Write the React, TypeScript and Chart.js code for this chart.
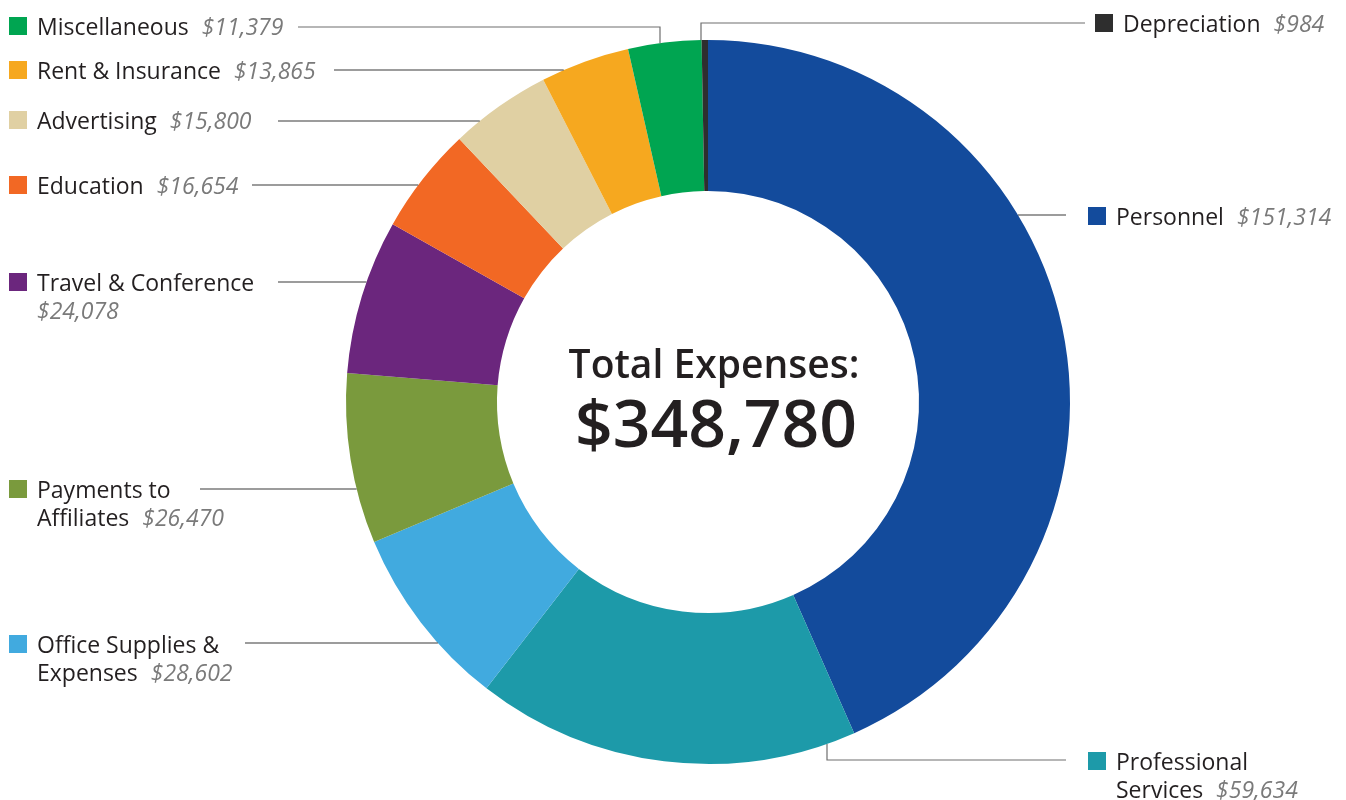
import React, { useEffect, useRef } from "react";
import { Chart, registerables } from "chart.js";

Chart.register(...registerables);

const LABELS = [
  "Personnel",
  "Professional Services",
  "Office Supplies & Expenses",
  "Payments to Affiliates",
  "Travel & Conference",
  "Education",
  "Advertising",
  "Rent & Insurance",
  "Miscellaneous",
  "Depreciation",
];
const VALUES = [151314, 59634, 28602, 26470, 24078, 16654, 15800, 13865, 11379, 984];
const COLORS = [
  "#134B9C",
  "#1D9AA9",
  "#41AADF",
  "#7A9A3D",
  "#6B267D",
  "#F26824",
  "#E0D0A3",
  "#F6A81F",
  "#00A551",
  "#2E2E2E",
];
const CENTER_TITLE = "Total Expenses:";

// Annotation layout (label boxes and leader lines), per category index
type Lay = {
  side: "left" | "right";
  sx: number;
  tx: number;
  y: number;
  lines: string[];
  valueLine: number;
  lineY: number;
  lineFrom: number;
  elbowX?: number;
};
const LAYOUT: Lay[] = [
  { side: "right", sx: 1088, tx: 1116, y: 216, lines: ["Personnel"], valueLine: 0, lineY: 215, lineFrom: 1066 },
  { side: "right", sx: 1088, tx: 1116, y: 761, lines: ["Professional", "Services"], valueLine: 1, lineY: 760, lineFrom: 1066, elbowX: 827 },
  { side: "left", sx: 9, tx: 37, y: 644, lines: ["Office Supplies &", "Expenses"], valueLine: 1, lineY: 643, lineFrom: 245 },
  { side: "left", sx: 9, tx: 37, y: 489, lines: ["Payments to", "Affiliates"], valueLine: 1, lineY: 489, lineFrom: 200 },
  { side: "left", sx: 9, tx: 37, y: 282, lines: ["Travel & Conference", ""], valueLine: 1, lineY: 282, lineFrom: 278 },
  { side: "left", sx: 9, tx: 37, y: 185, lines: ["Education"], valueLine: 0, lineY: 185, lineFrom: 252 },
  { side: "left", sx: 9, tx: 37, y: 120, lines: ["Advertising"], valueLine: 0, lineY: 121, lineFrom: 278 },
  { side: "left", sx: 9, tx: 37, y: 70, lines: ["Rent & Insurance"], valueLine: 0, lineY: 70, lineFrom: 334 },
  { side: "left", sx: 9, tx: 37, y: 26, lines: ["Miscellaneous"], valueLine: 0, lineY: 27, lineFrom: 298, elbowX: 660 },
  { side: "right", sx: 1095, tx: 1123, y: 23, lines: ["Depreciation"], valueLine: 0, lineY: 23, lineFrom: 1085, elbowX: 701 },
];

const FONT = "'Open Sans', 'Noto Sans', sans-serif";
const fmt = (v: number) => "$" + v.toLocaleString("en-US");

const annotPlugin = {
  id: "annot",
  afterDraw(chart: any) {
    const ctx = chart.ctx as CanvasRenderingContext2D;
    const meta = chart.getDatasetMeta(0);
    const arc = meta.data[0] as any;
    if (!arc) return;
    const cx = arc.x;
    const cy = arc.y;
    const R = arc.outerRadius;
    ctx.save();
    const LH = 28;
    LAYOUT.forEach((l, i) => {
      // square
      ctx.fillStyle = COLORS[i];
      ctx.fillRect(l.sx, l.y - 9, 18, 18);
      // texts
      ctx.textBaseline = "middle";
      ctx.textAlign = "left";
      l.lines.forEach((t, k) => {
        const yy = l.y + k * LH + 2;
        ctx.font = `23px ${FONT}`;
        ctx.fillStyle = "#231F20";
        let w = 0;
        if (t) {
          ctx.fillText(t, l.tx, yy);
          w = ctx.measureText(t).width + 13;
        }
        if (k === l.valueLine) {
          ctx.font = `italic 23px ${FONT}`;
          ctx.fillStyle = "#7A7A7A";
          ctx.fillText(fmt(VALUES[i]), l.tx + w, yy);
        }
      });
      // leader line
      ctx.strokeStyle = l.elbowX ? "#6E6E6E" : "#3A3A3A";
      ctx.lineWidth = 1.2;
      ctx.beginPath();
      ctx.moveTo(l.lineFrom, l.lineY);
      if (l.elbowX !== undefined) {
        const dx = l.elbowX - cx;
        const h = Math.sqrt(Math.max(0, R * R - dx * dx));
        const ey = l.lineY < cy ? cy - h : cy + h;
        ctx.lineTo(l.elbowX, l.lineY);
        ctx.lineTo(l.elbowX, ey);
      } else {
        const dy = l.lineY - cy;
        const h = Math.sqrt(Math.max(0, R * R - dy * dy));
        const ex = l.side === "left" ? cx - h : cx + h;
        ctx.lineTo(ex, l.lineY);
      }
      ctx.stroke();
    });
    // center text
    const total = VALUES.reduce((a, b) => a + b, 0);
    ctx.fillStyle = "#231F20";
    ctx.textAlign = "center";
    ctx.textBaseline = "alphabetic";
    ctx.font = `600 39px ${FONT}`;
    ctx.fillText(CENTER_TITLE, cx + 6, cy - 24);
    ctx.font = `600 66px ${FONT}`;
    ctx.fillText(fmt(total), cx + 8, cy + 45);
    ctx.restore();
  },
};

export default function App() {
  const ref = useRef<HTMLCanvasElement | null>(null);
  useEffect(() => {
    if (!ref.current) return;
    const chart = new Chart(ref.current, {
      type: "doughnut",
      data: {
        labels: LABELS,
        datasets: [
          {
            data: VALUES,
            backgroundColor: COLORS,
            borderWidth: 0,
          },
        ],
      },
      options: {
        animation: false,
        responsive: false,
        cutout: "58.3%",
        rotation: 0,
        layout: { padding: { left: 346, right: 276, top: 40, bottom: 36 } },
        plugins: {
          legend: { display: false },
          tooltip: { enabled: false },
        },
      },
      plugins: [annotPlugin],
    });
    return () => chart.destroy();
  }, []);
  return (
    <div style={{ position: "fixed", left: 0, top: 0, width: 1346, height: 800, background: "#fff" }}>
      <canvas ref={ref} width={1346} height={800} style={{ width: 1346, height: 800, display: "block" }} />
    </div>
  );
}
